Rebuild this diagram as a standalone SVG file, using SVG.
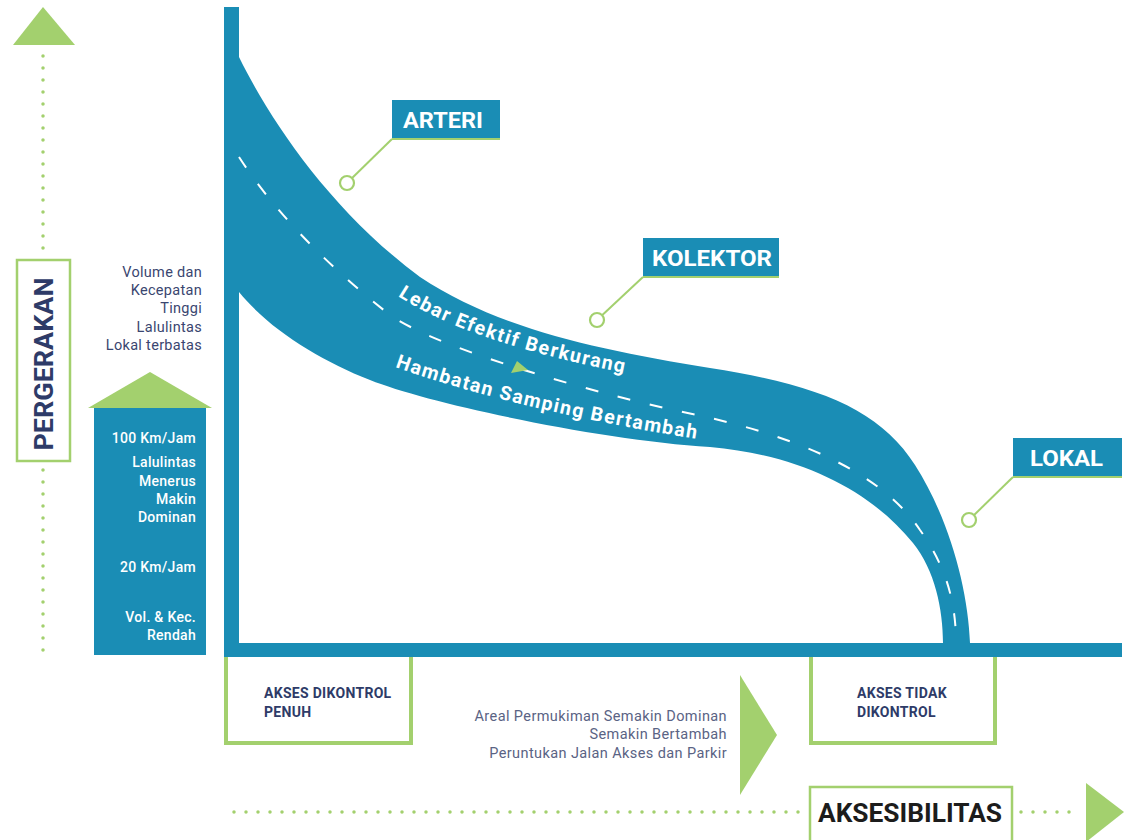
<svg xmlns="http://www.w3.org/2000/svg" width="1125" height="840" viewBox="0 0 1125 840">
  <style>
    .blue{fill:#1a8db5}
    .green{fill:#a3d06e}
    .gbox{fill:#fff;stroke:#a3d06e}
    .dots{fill:none;stroke:#a3d06e;stroke-width:3.5;stroke-linecap:round;stroke-dasharray:0 12}
    .lead{fill:none;stroke:#a3d06e;stroke-width:2}
    .ring{fill:#fff;stroke:#a3d06e;stroke-width:2.2}
    .lbl{font-family:Roboto,"Liberation Sans",sans-serif;font-weight:700;fill:#fff}
    .navy{font-family:Roboto,"Liberation Sans",sans-serif;fill:#3a4670;letter-spacing:0.3px}
    .navyb{font-family:Roboto,"Liberation Sans",sans-serif;font-weight:700;fill:#2e3b68}
    .wt{font-family:Roboto,"Liberation Sans",sans-serif;font-weight:500;fill:#fff;font-size:14px;letter-spacing:0.3px}
    .road{font-family:Roboto,"Liberation Sans",sans-serif;font-weight:700;fill:#fff;font-size:19.5px}
  </style>
  <defs>
    <path id="p1" d="M398,296 Q470,343 630,374"/>
    <path id="p2" d="M395,367 Q520,411 697,439"/>
  </defs>
  <rect width="1125" height="840" fill="#fff"/>

  <g id="axes">
    <rect class="blue" x="224" y="7" width="15" height="650"/>
    <rect class="blue" x="224" y="643" width="898" height="14"/>
  </g>

  <g id="road">
    <path class="blue" d="M239,57 C270,120 330,210 420,277 C500,330 600,350 710,368 C820,385 880,410 915,465 C950,520 968,590 970,643 L943,643 C943,610 935,570 913,543 C870,490 800,455 710,447 C600,440 430,404 370,380 C320,360 270,330 239,292 Z"/>
    <path d="M239,157 C270,205 320,260 390,315 C440,350 600,395 697,415 C790,435 880,470 920,530 C945,565 956,600 956,643" fill="none" stroke="#fff" stroke-width="2" stroke-dasharray="13 20"/>
    <polygon class="green" points="511,373 528,370 517,361"/>
    <text class="road"><textPath href="#p1" textLength="240" lengthAdjust="spacing">Lebar Efektif Berkurang</textPath></text>
    <text class="road"><textPath href="#p2" textLength="310" lengthAdjust="spacing">Hambatan Samping Bertambah</textPath></text>
  </g>

  <g id="connectors">
    <polyline class="lead" points="392,139 347,183"/>
    <polyline class="lead" points="643,277 597,320"/>
    <polyline class="lead" points="1013,477 969,520"/>
  </g>

  <g id="arteri">
    <rect class="blue" x="392" y="100" width="108" height="39"/>
    <rect class="green" x="392" y="138" width="108" height="2"/>
    <text class="lbl" x="403" y="128" font-size="22" textLength="80" lengthAdjust="spacingAndGlyphs">ARTERI</text>
    <circle class="ring" cx="347" cy="183" r="7"/>
  </g>
  <g id="kolektor">
    <rect class="blue" x="643" y="238" width="136" height="39"/>
    <rect class="green" x="643" y="276" width="136" height="2"/>
    <text class="lbl" x="652" y="266" font-size="22" textLength="120" lengthAdjust="spacingAndGlyphs">KOLEKTOR</text>
    <circle class="ring" cx="597" cy="320" r="7"/>
  </g>
  <g id="lokal">
    <rect class="blue" x="1013" y="438" width="109" height="39"/>
    <rect class="green" x="1013" y="476" width="109" height="2"/>
    <text class="lbl" x="1030" y="466" font-size="22" textLength="73" lengthAdjust="spacingAndGlyphs">LOKAL</text>
    <circle class="ring" cx="969" cy="520" r="7"/>
  </g>

  <g id="pergerakan">
    <polygon class="green" points="13,45 75,45 43,7"/>
    <line class="dots" x1="43" y1="56" x2="43" y2="252"/>
    <line class="dots" x1="43" y1="470" x2="43" y2="657"/>
    <rect class="gbox" x="17" y="260" width="53" height="201" stroke-width="2.5"/>
    <text class="navyb" transform="translate(53,364) rotate(-90)" text-anchor="middle" font-size="26" textLength="173" lengthAdjust="spacingAndGlyphs">PERGERAKAN</text>
  </g>

  <g id="left-notes" class="navy" font-size="14.5" text-anchor="end">
    <text x="202" y="277">Volume dan</text>
    <text x="202" y="295">Kecepatan</text>
    <text x="202" y="313">Tinggi</text>
    <text x="202" y="332">Lalulintas</text>
    <text x="202" y="350">Lokal terbatas</text>
  </g>

  <g id="speed-box">
    <polygon class="green" points="88,408 212,408 150,372"/>
    <rect class="blue" x="94" y="408" width="112" height="247"/>
    <g text-anchor="end" class="wt">
      <text x="196" y="443">100 Km/Jam</text>
      <text x="196" y="467">Lalulintas</text>
      <text x="196" y="486">Menerus</text>
      <text x="196" y="504">Makin</text>
      <text x="196" y="522">Dominan</text>
      <text x="196" y="572">20 Km/Jam</text>
      <text x="196" y="622">Vol. &amp; Kec.</text>
      <text x="196" y="640">Rendah</text>
    </g>
  </g>

  <g id="akses-penuh">
    <rect class="gbox" x="226" y="645" width="185" height="98" stroke-width="4"/>
    <rect class="blue" x="224" y="643" width="190" height="14"/>
    <text class="navyb" font-size="14" letter-spacing="0.3" x="264" y="698">AKSES DIKONTROL</text>
    <text class="navyb" font-size="14" letter-spacing="0.3" x="264" y="717">PENUH</text>
  </g>

  <g id="akses-tidak">
    <rect class="gbox" x="811" y="645" width="184" height="98" stroke-width="4"/>
    <rect class="blue" x="808" y="643" width="190" height="14"/>
    <text class="navyb" font-size="14" letter-spacing="0.3" x="857" y="698">AKSES TIDAK</text>
    <text class="navyb" font-size="14" letter-spacing="0.3" x="857" y="717">DIKONTROL</text>
  </g>

  <g id="bottom-notes" font-size="14.5" text-anchor="end" letter-spacing="0.4" style="font-family:Roboto,'Liberation Sans',sans-serif;fill:#5a6384">
    <text x="727" y="721">Areal Permukiman Semakin Dominan</text>
    <text x="727" y="739">Semakin Bertambah</text>
    <text x="727" y="758">Peruntukan Jalan Akses dan Parkir</text>
  </g>
  <polygon id="mid-arrow" class="green" points="740,675 777,735 740,795"/>

  <g id="aksesibilitas">
    <line class="dots" x1="234" y1="812" x2="800" y2="812"/>
    <line class="dots" x1="1021" y1="812" x2="1078" y2="812"/>
    <polygon class="green" points="1086,783 1124,812 1086,842"/>
    <rect class="gbox" x="810" y="787" width="202" height="56" stroke-width="2.5"/>
    <text x="818" y="822" font-size="25" font-weight="700" fill="#1c1c1c" style="font-family:Roboto,'Liberation Sans',sans-serif" textLength="184" lengthAdjust="spacingAndGlyphs">AKSESIBILITAS</text>
  </g>
</svg>
